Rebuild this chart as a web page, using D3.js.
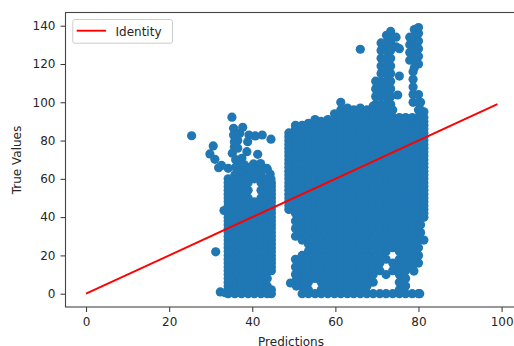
<!DOCTYPE html>
<html>
<head>
<meta charset="utf-8">
<script src="https://d3js.org/d3.v7.min.js"></script>
<style>
  html, body { margin: 0; padding: 0; background: #fff; overflow: hidden; }
  text { font-family: "DejaVu Sans", sans-serif; fill: #262626; }
</style>
</head>
<body>
<div id="chart"></div>
<script>
// values, one list of true values per prediction column
const leftPredictions = [34.2, 35.8, 37.4, 39, 40.5, 42.1, 43.6, 44.6];
const leftTrue = [
  [0,4,8,12,16,20,24,28,32,36,40,44,48,52,56,60],
  [0,2,6,10,14,18,22,26,30,34,38,42,46,50,54,58,62],
  [0,4,8,12,16,20,24,28,32,36,40,44,48,52,56,60,64],
  [0,2,6,10,14,18,22,26,30,34,38,42,46,50,54,58,62,66],
  [0,4,8,12,16,20,24,28,32,36,40,44,48,60,64],
  [0,2,6,10,14,18,22,26,30,34,38,42,46,50,54,58,62,66],
  [0,4,8,12,16,20,24,28,32,36,40,44,48,52,56,60,65],
  [0,12,16,20,24,28,32,36,40,44,48,52,56]
];

const rightPredictions = [48.8, 50.4, 52, 53.5, 55.1, 56.6, 58.2, 59.8, 61.3, 62.9, 64.4, 66, 67.6, 69.1, 70.7, 72.2, 73.8, 75.4, 76.9, 78.5, 80, 81.3];
const rightTrue = [
  [44,48,52,56,60,64,68,72,76,80,84],
  [10,14,18,30,34,38,42,46,50,54,58,62,66,70,74,78,82,86,88],
  [0,4,8,12,16,20,28,32,36,40,44,48,52,56,60,64,68,72,76,80,84,88],
  [0,2,6,10,14,18,22,26,30,34,38,42,46,50,54,58,62,66,70,74,78,82,86,89],
  [0,8,12,16,20,24,28,32,36,40,44,48,52,56,60,64,68,72,76,80,84,88,91],
  [0,2,6,10,14,18,22,26,30,34,38,42,46,50,54,58,62,66,70,74,78,82,86,90],
  [0,4,8,12,16,20,24,28,32,36,40,44,48,52,56,60,64,68,72,76,80,84,88,91],
  [0,2,6,10,14,18,22,26,30,34,38,42,46,50,54,58,62,66,70,74,78,82,86,90,94],
  [0,4,8,12,16,20,24,28,32,36,40,44,48,52,56,60,64,68,72,76,80,84,88,92,96,100],
  [0,2,6,10,14,18,22,26,30,34,38,42,46,50,54,58,62,66,70,74,78,82,86,90,94,97],
  [0,4,8,12,16,20,24,28,32,36,40,44,48,52,56,60,64,68,72,76,80,84,88,92,96],
  [0,2,6,10,14,18,22,26,30,34,38,42,46,50,54,58,62,66,70,74,78,82,86,90,94,97],
  [0,4,8,12,16,20,24,28,32,36,40,44,48,52,56,60,64,68,72,76,80,84,88,92,96],
  [0,6,10,14,18,22,26,30,34,38,42,46,50,54,58,62,66,70,74,78,82,86,90,94,98],
  [0,12,16,20,24,28,32,36,40,44,48,52,56,60,64,68,72,76,80,84,88,92,96],
  [0,10,18,22,26,30,34,38,42,46,50,54,58,62,66,70,74,78,82,86,90,94,98],
  [0,12,16,24,28,32,36,40,44,48,52,56,60,64,68,72,76,80,84,88,92,96],
  [0,2,6,10,14,18,22,26,30,34,38,42,46,50,54,58,62,66,70,74,78,82,86,90,92],
  [0,4,8,12,16,20,24,28,32,36,40,44,48,52,56,60,64,68,72,76,80,84,88,92],
  [0,14,18,22,26,30,34,38,42,46,50,54,58,62,66,70,74,78,82,86,90,92],
  [0,16,20,24,28,32,36,40,44,48,52,56,60,64,68,72,76,80,84,88,92,96],
  [28,40,44,48,52,56,60,64,68,72,76,80,84,88,92,95]
];

// extra points along the block edges
const edgePredictions = [34.2, 44.6, 48.8, 81.3, 50.6, 52.8];
const edgeTrue = [
  [2,6,10,14,18,22,26,30,34,38,42,46,50,54,58],
  [2,14,18,22,26,30,34,38,42,46,50,54,58],
  [46,50,54,58,62,66,70,74,78,82],
  [42,46,50,54,58,62,66,70,74,78,82,86,90],
  [4,7],
  [2,6,10,14,18]
];

// the two towers above the main block
const towerPredictions = [69.7, 71, 72.3, 73.3, 77.9, 78.7, 79, 80, 80.5];
const towerTrue = [
  [99,103,107,111],
  [99,103,107,111,115,119,123,127,131],
  [99,103,107,111,115,119,123,127,131,135],
  [99,103,107,111,115,119,123,127,131,135,137],
  [122,126,130,134],
  [100,104,108,112,116],
  [118,122,126,130,134,138],
  [100,104,120,124,128,132,136,139],
  [96,100]
];

// single points away from the blocks
const loosePredictions = [25.4,35.1,35.5,35.5,35.7,35.7,35.2,37.7,37,36.5,36.5,39.2,38.9,40.7,42.4,44.5,38.7,41.3,37.5,36,30.6,29.8,31,31.9,34.2,32.6,40.3,43.5,44.5,41.5,37,31.2,32.3,33.5,33.2,66,75.4,75,74.6,74.6,75.4,49.2,78.9,80.5,80.5,80.3,38,39.5,42,44.3,36];
const looseTrue = [82.5,92.2,86.4,82.9,79.4,76.8,73.4,86.9,83.8,80,76,82.9,79.4,82.4,82.9,80.7,74.2,72.8,70.7,70,77.2,73,70.2,65.8,65.5,67,67.8,65.5,59.9,65,67,21.9,0.9,0.5,43.4,127.7,113.7,103.8,134,129,128,5.6,11.8,32,36,0,67.5,66,68,62.5,66];

const identityX = [0, 99];
const identityY = [0, 99];

const xTicks = [0, 20, 40, 60, 80, 100];
const yTicks = [0, 20, 40, 60, 80, 100, 120, 140];

const width = 514, height = 346;
const left = 65.5, right = 518, top_ = 12.5, bottom = 307;

const svg = d3.select("#chart").append("svg")
  .attr("width", width)
  .attr("height", height)
  .style("display", "block");

const x = d3.scaleLinear().domain([-4.95, 103.95]).range([left, right]);
const y = d3.scaleLinear().domain([-6.95, 146.9]).range([bottom, top_]);

// flatten the column lists into points
let points = [];
function addColumns(preds, trues) {
  preds.forEach((p, i) => trues[i].forEach(t => points.push([p, t])));
}
addColumns(leftPredictions, leftTrue);
addColumns(rightPredictions, rightTrue);
addColumns(edgePredictions, edgeTrue);
addColumns(towerPredictions, towerTrue);
loosePredictions.forEach((p, i) => points.push([p, looseTrue[i]]));

svg.append("g").selectAll("circle")
  .data(points)
  .enter()
  .append("circle")
  .attr("cx", d => x(d[0]))
  .attr("cy", d => y(d[1]))
  .attr("r", 4.6)
  .attr("fill", "#1f77b4");

svg.append("path")
  .datum(identityX.map((d, i) => [d, identityY[i]]))
  .attr("d", d3.line().x(d => x(d[0])).y(d => y(d[1])))
  .attr("fill", "none")
  .attr("stroke", "#ff0000")
  .attr("stroke-width", 1.9);

// axes
const xAxis = d3.axisBottom(x).tickValues(xTicks).tickSizeOuter(0).tickSize(5).tickPadding(5);
const yAxis = d3.axisLeft(y).tickValues(yTicks).tickSizeOuter(0).tickSize(5).tickPadding(5);

const gx = svg.append("g").attr("transform", "translate(0," + bottom + ")").call(xAxis);
const gy = svg.append("g").attr("transform", "translate(" + left + ",0)").call(yAxis);

[gx, gy].forEach(g => {
  g.selectAll("text").style("font-size", "12px").style("font-family", "'DejaVu Sans'").attr("fill", "#262626");
  g.selectAll("line").attr("stroke", "#333").attr("stroke-width", 1);
  g.select(".domain").remove();
});

// spines, the right one falls outside the picture
svg.append("rect")
  .attr("x", left)
  .attr("y", top_)
  .attr("width", right - left)
  .attr("height", bottom - top_)
  .attr("fill", "none")
  .attr("stroke", "#444")
  .attr("stroke-width", 1.1);

svg.append("text")
  .text("Predictions")
  .attr("x", 291)
  .attr("y", 345.5)
  .attr("text-anchor", "middle")
  .style("font-size", "12px");

svg.append("text")
  .text("True Values")
  .attr("transform", "translate(21,160) rotate(-90)")
  .attr("text-anchor", "middle")
  .style("font-size", "12px");

// legend
const legend = svg.append("g");
legend.append("rect")
  .attr("x", 72.8)
  .attr("y", 19.5)
  .attr("width", 99.7)
  .attr("height", 23.7)
  .attr("rx", 2)
  .attr("fill", "#fff")
  .attr("fill-opacity", 0.8)
  .attr("stroke", "#ccc")
  .attr("stroke-width", 1);
legend.append("line")
  .attr("x1", 76.7)
  .attr("x2", 106)
  .attr("y1", 30.7)
  .attr("y2", 30.7)
  .attr("stroke", "#ff0000")
  .attr("stroke-width", 1.9);
legend.append("text")
  .text("Identity")
  .attr("x", 115.5)
  .attr("y", 35.5)
  .style("font-size", "12px");
</script>
</body>
</html>
